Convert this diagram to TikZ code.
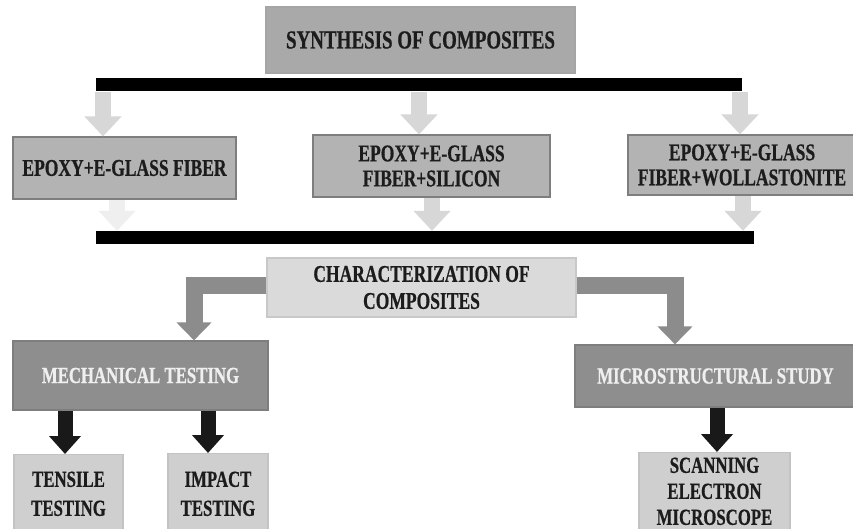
\documentclass[tikz,border=0pt]{standalone}
\usepackage{fontspec}
\newfontfamily\cf[FakeStretch=0.73,FakeBold=0.6]{Liberation Serif}
\usetikzlibrary{arrows.meta}
\definecolor{synfill}{HTML}{A9A9A9}
\definecolor{rowfill}{HTML}{B3B3B3}
\definecolor{charfill}{HTML}{DADADA}
\definecolor{darkfill}{HTML}{8E8E8E}
\definecolor{lowfill}{HTML}{CFCFCF}
\definecolor{boxline}{HTML}{7E7E7E}
\definecolor{lightarr}{HTML}{D7D7D7}
\definecolor{elbowarr}{HTML}{8C8C8C}
\definecolor{txt}{HTML}{1C1C1C}
\definecolor{wtxt}{HTML}{EFEFEF}
\begin{document}
\begin{tikzpicture}[x=1pt,y=-1pt,
  box/.style={draw=boxline, line width=1.2pt, inner sep=0pt, align=center, text=txt,
    font=\cf\bfseries\fontsize{24}{25}\selectfont},
  lowbox/.style={box, fill=lowfill, draw=lowfill!85!gray, anchor=north, inner xsep=0pt},
  bar/.style={fill=black, inner sep=0pt},
  lightarrow/.style={draw=lightarr, line width=16pt, -{Triangle[length=20pt,width=36pt]}},
  elbowarrow/.style={draw=elbowarr, line width=17pt, line join=miter, -{Triangle[length=18pt,width=34pt]}},
  blackarrow/.style={draw=black!90, line width=15pt, -{Triangle[length=18pt,width=31pt]}}
]
\useasboundingbox (0,0) rectangle (853,529);
\clip (0,0) rectangle (853,529);
\fill[white] (0,0) rectangle (853,529);

% nodes
\node[box, fill=synfill, draw=boxline!70, minimum width=309pt, minimum height=66pt,
  font=\cf\bfseries\fontsize{26}{28}\selectfont] (syn) at (420.5,40) {SYNTHESIS OF COMPOSITES};
\node[bar, minimum width=646pt, minimum height=13pt] (bar1) at (419,85) {};

\node[box, fill=rowfill, minimum width=223pt, minimum height=62pt] (b1) at (124.5,168) {EPOXY+E-GLASS FIBER};
\node[box, fill=rowfill, minimum width=237pt, minimum height=62pt] (b2) at (431.5,166) {EPOXY+E-GLASS\\FIBER+SILICON};
\node[box, fill=rowfill, minimum width=228pt, minimum height=60pt] (b3) at (742,165) {EPOXY+E-GLASS\\FIBER+WOLLASTONITE};

\node[bar, minimum width=658pt, minimum height=13pt] (bar2) at (425,237.5) {};

\node[box, fill=charfill, draw=charfill!80!gray, minimum width=309pt, minimum height=59pt,
  font=\cf\bfseries\fontsize{24}{27}\selectfont] (char) at (421.5,287.5) {CHARACTERIZATION OF\\COMPOSITES};

\node[box, fill=darkfill, text=wtxt, minimum width=255pt, minimum height=69pt,
  font=\cf\bfseries\fontsize{23}{25}\selectfont] (mech) at (140.5,375.5) {MECHANICAL TESTING};
\node[box, fill=darkfill, text=wtxt, minimum width=281pt, minimum height=62pt,
  font=\cf\bfseries\fontsize{23}{25}\selectfont] (micro) at (715.5,376) {MICROSTRUCTURAL STUDY};

\node[lowbox, minimum width=109pt, inner ysep=17pt,
  font=\cf\bfseries\fontsize{23}{29}\selectfont] (tens) at (68.5,454) {TENSILE\\TESTING};
\node[lowbox, minimum width=100pt, inner ysep=18pt,
  font=\cf\bfseries\fontsize{23}{29}\selectfont] (imp) at (218,453) {IMPACT\\TESTING};
\node[lowbox, minimum width=151pt, inner ysep=5pt,
  font=\cf\bfseries\fontsize{23}{26}\selectfont] (sem) at (714.5,452) {SCANNING\\ELECTRON\\MICROSCOPE};

% x positions of connectors
\coordinate (xa) at (103,0);
\coordinate (xb) at (419,0);
\coordinate (xc) at (740,0);
\coordinate (xd) at (117,0);
\coordinate (xe) at (432,0);
\coordinate (xf) at (743,0);
\coordinate (yel) at (0,285.5);
\coordinate (xl) at (194,0);
\coordinate (xr) at (675,0);
\coordinate (xt) at (65,0);
\coordinate (xi) at (208,0);
\coordinate (xs) at (717,0);

% light arrows
\draw[lightarrow] (xa |- bar1.south) -- (xa |- b1.north);
\draw[lightarrow] (xb |- bar1.south) -- (xb |- b2.north);
\draw[lightarrow] (xc |- bar1.south) -- (xc |- b3.north);
\draw[lightarrow, draw=lightarr!40] (xd |- b1.south) -- (xd |- bar2.north);
\draw[lightarrow] (xe |- b2.south) -- (xe |- bar2.north);
\draw[lightarrow] (xf |- b3.south) -- (xf |- bar2.north);

% elbow arrows
\draw[elbowarrow] (char.west |- yel) -| (xl |- mech.north);
\draw[elbowarrow] (char.east |- yel) -| (xr |- micro.north);

% black arrows
\draw[blackarrow] (xt |- mech.south) -- (xt |- tens.north);
\draw[blackarrow] (xi |- mech.south) -- (xi |- imp.north);
\draw[blackarrow] (xs |- micro.south) -- (xs |- sem.north);
\end{tikzpicture}
\end{document}
